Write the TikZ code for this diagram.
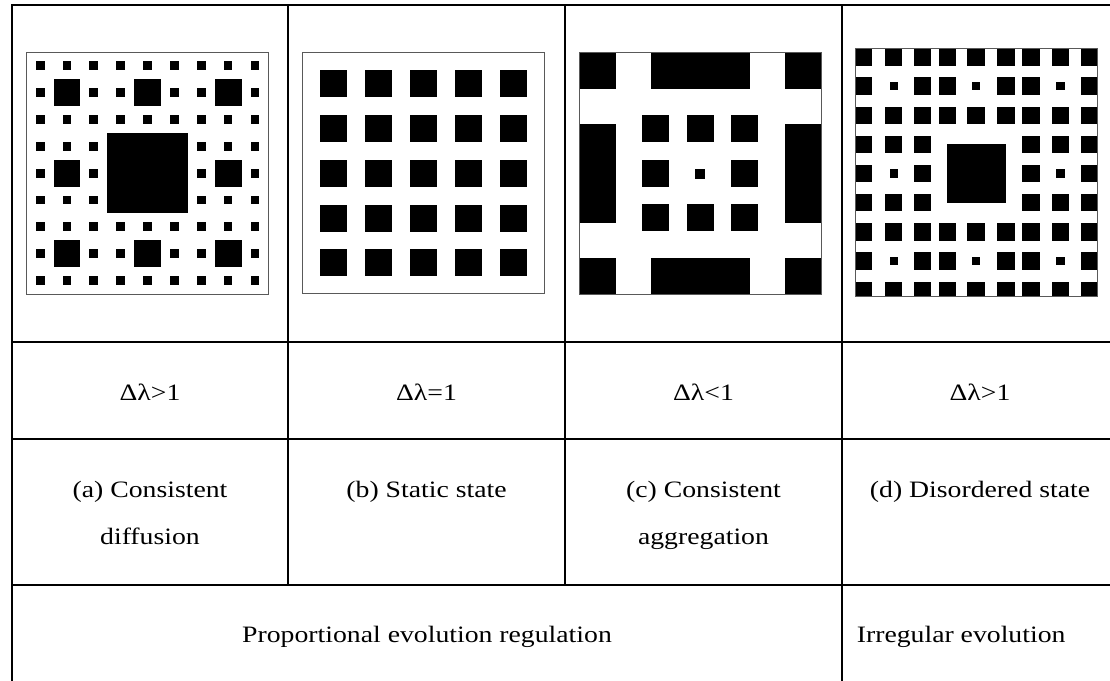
\documentclass[tikz,border=0pt]{standalone}
\usepackage{fontspec}
\setmainfont{Liberation Serif}[FakeStretch=1.18]
\usepackage{tikz}

\tikzset{
  grille/.style={line width=2.3pt},
  cadre/.style={draw=black!65, line width=0.9pt},
  etiq/.style={inner sep=0pt, font=\fontsize{23.5}{47}\selectfont, align=center},
}

\begin{document}
\begin{tikzpicture}[x=1pt,y=-1pt]
        \clip (0,0) rectangle (1110,680);
        \fill[white] (0,0) rectangle (1110,680);

        % Lignes du tableau
        \draw[grille] (12,690) -- (12,5) -- (1120,5);
        \draw[grille] (12,341.7) -- (1120,341.7);
        \draw[grille] (12,439.3) -- (1120,439.3);
        \draw[grille] (12,585) -- (1120,585);
        \draw[grille] (288,5) -- (288,585);
        \draw[grille] (565,5) -- (565,585);
        \draw[grille] (842,5) -- (842,690);

        % (a) tapis
        \begin{scope}[shift={(26.7,52.3)}]
            \def\pas{26.85}
            \foreach \i in {0,...,8}{
                \foreach \j in {0,...,8}{
                    \pgfmathtruncatemacro{\ismed}{(mod(\i,3)==1)&&(mod(\j,3)==1)}
                    \pgfmathtruncatemacro{\iscen}{(\i>2)&&(\i<6)&&(\j>2)&&(\j<6)}
                    \ifnum\iscen=0
                        \ifnum\ismed=1
                            \fill (\i*\pas,\j*\pas) rectangle ++(\pas,\pas);
                        \else
                            \fill ({(\i+0.5)*\pas-4.4},{(\j+0.5)*\pas-4.4}) rectangle ++(8.8,8.8);
                        \fi
                    \fi
                }
            }
            \fill (3*\pas,3*\pas) rectangle (6*\pas,6*\pas);
            \draw[cadre] (0,0) rectangle (9*\pas,9*\pas);
        \end{scope}

        % (b) grille reguliere
        \begin{scope}[shift={(302.7,52.3)}]
            \foreach \i in {-2,...,2}
                \foreach \j in {-2,...,2}
                    \fill ({120.8+\i*44.9-13.5},{120.8+\j*44.9-13.5}) rectangle ++(27,27);
            \draw[cadre] (0,0) rectangle (241.6,241.6);
        \end{scope}

        % (c) agregation
        \begin{scope}[shift={(579.3,52.3)}]
            \fill (0,0) rectangle (241.7,241.7);
            \fill[white] (36.2,36.2) rectangle (205.5,205.5);
            \fill[white] (36.2,0) rectangle (71.5,241.7);
            \fill[white] (170.3,0) rectangle (205.5,241.7);
            \fill[white] (0,36.2) rectangle (241.7,71.5);
            \fill[white] (0,170.3) rectangle (241.7,205.5);
            \foreach \i in {-1,0,1}
                \foreach \j in {-1,0,1}
                    \fill ({120.85+\i*44.8-13.5},{120.85+\j*44.8-13.5}) rectangle ++(27,27);
            \fill[white] (107.35,107.35) rectangle (134.35,134.35);
            \fill (115.7,116.3) rectangle ++(10.3,10.3);
            \draw[cadre] (0,0) rectangle (241.7,241.7);
        \end{scope}

        % (d) etat desordonne
        \begin{scope}[shift={(855,48.3)}]
            \begin{scope}
                \clip (0,0) rectangle (242.7,248.4);
                \foreach \x [count=\i from 0] in {0,30,59,84,112.3,142.3,167.3,196.7,225.7}{
                    \foreach \j in {0,...,8}{
                        \pgfmathtruncatemacro{\ispetit}{(mod(\i,3)==1)&&(mod(\j,3)==1)}
                        \pgfmathtruncatemacro{\iscen}{(\i>2)&&(\i<6)&&(\j>2)&&(\j<6)}
                        \ifnum\iscen=0
                            \ifnum\ispetit=1
                                \fill ({\x+4.5},{\j*29.17+4.5}) rectangle ++(8.3,8.3);
                            \else
                                \fill (\x,{\j*29.17}) rectangle ++(17.3,17.3);
                            \fi
                        \fi
                    }
                }
                \fill (91.7,95.7) rectangle (151,155);
            \end{scope}
            \draw[cadre] (0,0) rectangle (242.7,248.4);
        \end{scope}

        % Textes
        \node[etiq, anchor=base] (da) at (150,400.7) {Δλ>1};
        \node[etiq, anchor=base] (db) at (426.5,400.7) {Δλ=1};
        \node[etiq, anchor=base] (dc) at (703.5,400.7) {Δλ<1};
        \node[etiq, anchor=base] (dd) at (980,400.7) {Δλ>1};

        \node[etiq, anchor=north] (la) at (150,481) {(a) Consistent\\diffusion};
        \node[etiq, anchor=north] (lb) at (426.5,481) {(b) Static state};
        \node[etiq, anchor=north] (lc) at (703.5,481) {(c) Consistent\\aggregation};
        \node[etiq, anchor=north] (ld) at (980,481) {(d) Disordered state};

        \node[etiq, anchor=base] (prop) at (427,642) {Proportional evolution regulation};
        \node[etiq, anchor=base west] (irr) at (856.6,642) {Irregular evolution};
\end{tikzpicture}
\end{document}
